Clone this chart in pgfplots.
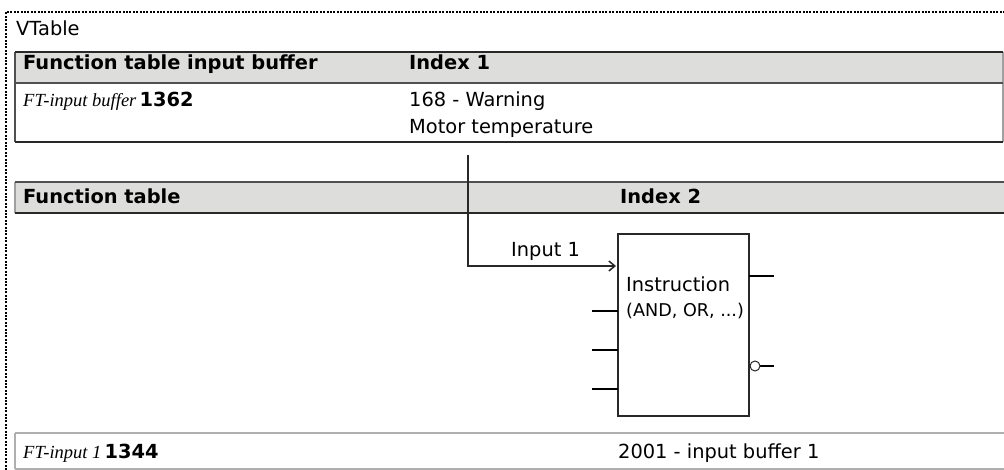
\documentclass[border=0pt]{standalone}
\usepackage{pgfplots}
\pgfplotsset{compat=1.18}
\usepackage{fontspec}
\usetikzlibrary{arrows.meta}
\setmainfont{DejaVu Sans}
\newfontfamily\tnr{Liberation Serif}
\definecolor{hdr}{RGB}{221,221,219}
\definecolor{dk}{RGB}{40,40,40}
\definecolor{md}{RGB}{80,80,80}
\definecolor{lt}{RGB}{160,160,160}
\definecolor{lt2}{RGB}{175,175,175}
\newcommand{\tx}{\fontsize{19.4bp}{23bp}\selectfont}
\newcommand{\txs}{\fontsize{17.6bp}{21bp}\selectfont}
\newcommand{\itx}{\tnr\itshape\fontsize{18.5bp}{22bp}\selectfont}
\begin{document}
\begin{tikzpicture}
\begin{axis}[width=1004bp,height=470bp,scale only axis,
  xmin=0,xmax=1004,ymin=0,ymax=470,y dir=reverse,
  hide axis,clip=false]
% dotted frame
\addplot[black,line width=2bp,dash pattern=on 2bp off 1.4bp] coordinates {(6,470)(6,12)(1004,12)};
% top table header band
\addplot[fill=hdr,draw=none] coordinates {(15,52)(1003,52)(1003,83)(15,83)} -- cycle;
\addplot[md,line width=1.5bp] coordinates {(15,52)(15,142)};
\addplot[lt,line width=1.3bp] coordinates {(1003,52)(1003,142)};
\addplot[dk,line width=2.2bp] coordinates {(15,52)(1003,52)};
\addplot[md,line width=1.5bp] coordinates {(15,83)(1003,83)};
\addplot[dk,line width=2bp] coordinates {(15,142)(1003,142)};
% function table band
\addplot[fill=hdr,draw=none] coordinates {(15,182)(1004,182)(1004,213)(15,213)} -- cycle;
\addplot[lt,line width=1.3bp] coordinates {(15,182)(15,213)};
\addplot[md,line width=1.3bp] coordinates {(15,182)(1004,182)};
\addplot[dk,line width=1.8bp] coordinates {(15,213)(1004,213)};
% bottom row
\addplot[lt2,line width=1.5bp] coordinates {(15,433)(1004,433)};
\addplot[lt2,line width=1.5bp] coordinates {(15,469)(1004,469)};
\addplot[lt2,line width=1.5bp] coordinates {(15,433)(15,469)};
% connector
\addplot[dk,line width=1.8bp,-{Straight Barb[length=6bp,width=10bp,line width=1.5bp]}] coordinates {(468,155)(468,266)(616,266)};
% instruction box
\addplot[dk,line width=1.3bp] coordinates {(618,234)(749,234)(749,416)(618,416)} -- cycle;
\addplot[black,line width=1.5bp] coordinates {(592,311)(618,311)};
\addplot[black,line width=1.5bp] coordinates {(592,350)(618,350)};
\addplot[black,line width=1.5bp] coordinates {(592,389)(618,389)};
\addplot[black,line width=1.5bp] coordinates {(749,276)(774,276)};
\addplot[black,line width=1.5bp] coordinates {(760,366)(774,366)};
\addplot[only marks,mark=*,mark size=5bp,mark options={fill=white,draw=dk,line width=1bp}] coordinates {(755,366)};
% texts
\node[anchor=base west,inner sep=0] at (axis cs:16,36) {\tx VTable};
\node[anchor=base west,inner sep=0] at (axis cs:23,70) {\tx\bfseries Function table input buffer};
\node[anchor=base west,inner sep=0] at (axis cs:409,70) {\tx\bfseries Index 1};
\node[anchor=base west,inner sep=0] at (axis cs:23,107) {{\itx FT-input buffer} {\tx\bfseries 1362}};
\node[anchor=base west,inner sep=0] at (axis cs:409,107) {\tx 168 - Warning};
\node[anchor=base west,inner sep=0] at (axis cs:409,134) {\tx Motor temperature};
\node[anchor=base west,inner sep=0] at (axis cs:23,204) {\tx\bfseries Function table};
\node[anchor=base west,inner sep=0] at (axis cs:620,204) {\tx\bfseries Index 2};
\node[anchor=base west,inner sep=0] at (axis cs:511,257) {\tx Input 1};
\node[anchor=base west,inner sep=0] at (axis cs:626,292) {\tx Instruction};
\node[anchor=base west,inner sep=0] at (axis cs:626,317) {\txs (AND, OR, ...)};
\node[anchor=base west,inner sep=0] at (axis cs:23,458) {{\itx FT-input 1} {\tx\bfseries 1344}};
\node[anchor=base west,inner sep=0] at (axis cs:618,458) {\tx 2001 - input buffer 1};
\end{axis}
\pgfresetboundingbox
\path (current axis.south west) rectangle (current axis.north east);
\end{tikzpicture}
\end{document}
